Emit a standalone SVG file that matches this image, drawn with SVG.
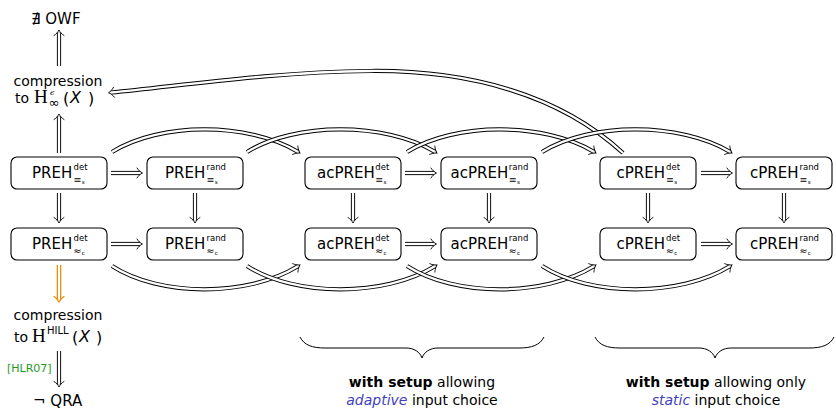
<svg xmlns="http://www.w3.org/2000/svg" width="836" height="409" viewBox="0 0 836 409">
<style>
.box{fill:#fff;stroke:#000;stroke-width:1.1}
.lb{font-family:"DejaVu Sans",sans-serif;font-size:15px;fill:#000}
.sup{font-size:8.5px}
.sub{font-size:9.5px}
.subs{font-size:5.5px}
.t{font-family:"DejaVu Sans",sans-serif;font-size:14px;fill:#000}
.sr{font-family:"Liberation Serif","DejaVu Serif",serif;font-size:19px;fill:#000}
.eps{font-family:"DejaVu Serif",serif;font-size:8px;font-style:italic;fill:#000}
.inf{font-family:"DejaVu Sans",sans-serif;font-size:13px;fill:#000}
.hill{font-family:"DejaVu Sans",sans-serif;font-size:10px;fill:#000}
.par{font-family:"DejaVu Sans",sans-serif;font-size:16px;fill:#000}
.xi{font-family:"DejaVu Sans",sans-serif;font-size:16px;font-style:italic;fill:#000}
.cap{font-family:"DejaVu Sans",sans-serif;font-size:14px;fill:#000;text-anchor:middle}
.em{font-style:italic;fill:#3f3fbf}
.cite{font-family:"DejaVu Sans",sans-serif;font-size:11px;fill:#1f9a1f}
.o{fill:none;stroke:#000;stroke-width:4.2;marker-end:url(#ah)}
.i{fill:none;stroke:#fff;stroke-width:2.3}
.oo{fill:none;stroke:#f08a00;stroke-width:4.6;marker-end:url(#aho)}
.brace{fill:none;stroke:#000;stroke-width:1}
</style>
<defs>
<marker id="ah" markerUnits="userSpaceOnUse" orient="auto" refX="0" refY="0" markerWidth="20" markerHeight="20" viewBox="-10 -10 20 20" overflow="visible">
<path d="M -3 -5 C -1.5 -2.5 0.5 -1 2.5 0 C 0.5 1 -1.5 2.5 -3 5" fill="none" stroke="#000" stroke-width="0.9" stroke-linecap="round"/>
</marker>
<marker id="aho" markerUnits="userSpaceOnUse" orient="auto" refX="0" refY="0" markerWidth="20" markerHeight="20" viewBox="-10 -10 20 20" overflow="visible">
<path d="M -3 -5 C -1.5 -2.5 0.5 -1 2.5 0 C 0.5 1 -1.5 2.5 -3 5" fill="none" stroke="#f08a00" stroke-width="1.2" stroke-linecap="round"/>
</marker>
</defs>
<rect width="836" height="409" fill="#fff"/>

<g id="connectors">
<path class="o" d="M 623 153 C 560 95, 470 70, 370 71 C 270 72, 180 86, 111 92.5"/>
<path class="i" d="M 623 153 C 560 95, 470 70, 370 71 C 270 72, 180 86, 111 92.5"/>
<path class="o" d="M 112 152 C 160 122, 248 122, 297.8 151.7"/>
<path class="i" d="M 112 152 C 160 122, 248 122, 297.8 151.7"/>
<path class="o" d="M 247 152 C 295 122, 385 122, 434.8 151.7"/>
<path class="i" d="M 247 152 C 295 122, 385 122, 434.8 151.7"/>
<path class="o" d="M 407 152 C 455 122, 544 122, 593.8 151.7"/>
<path class="i" d="M 407 152 C 455 122, 544 122, 593.8 151.7"/>
<path class="o" d="M 542 152 C 590 122, 680 122, 729.8 151.7"/>
<path class="i" d="M 542 152 C 590 122, 680 122, 729.8 151.7"/>
<path class="o" d="M 112 266 C 160 297, 248 297, 297.8 266.3"/>
<path class="i" d="M 112 266 C 160 297, 248 297, 297.8 266.3"/>
<path class="o" d="M 247 266 C 295 297, 385 297, 434.8 266.3"/>
<path class="i" d="M 247 266 C 295 297, 385 297, 434.8 266.3"/>
<path class="o" d="M 407 266 C 455 297, 544 297, 593.8 266.3"/>
<path class="i" d="M 407 266 C 455 297, 544 297, 593.8 266.3"/>
<path class="o" d="M 542 266 C 590 297, 680 297, 729.8 266.3"/>
<path class="i" d="M 542 266 C 590 297, 680 297, 729.8 266.3"/>
<path class="o" d="M 111 173 H 140"/><path class="i" d="M 111 173 H 140"/>
<path class="o" d="M 405 173 H 434"/><path class="i" d="M 405 173 H 434"/>
<path class="o" d="M 701 173 H 730"/><path class="i" d="M 701 173 H 730"/>
<path class="o" d="M 111 244 H 140"/><path class="i" d="M 111 244 H 140"/>
<path class="o" d="M 405 244 H 434"/><path class="i" d="M 405 244 H 434"/>
<path class="o" d="M 701 244 H 730"/><path class="i" d="M 701 244 H 730"/>
<path class="o" d="M 59 193 V 220.5"/><path class="i" d="M 59 193 V 220.5"/>
<path class="o" d="M 195 193 V 220.5"/><path class="i" d="M 195 193 V 220.5"/>
<path class="o" d="M 353 193 V 220.5"/><path class="i" d="M 353 193 V 220.5"/>
<path class="o" d="M 489 193 V 220.5"/><path class="i" d="M 489 193 V 220.5"/>
<path class="o" d="M 648 193 V 220.5"/><path class="i" d="M 648 193 V 220.5"/>
<path class="o" d="M 784 193 V 220.5"/><path class="i" d="M 784 193 V 220.5"/>
<path class="o" d="M 59 66 V 32.5"/><path class="i" d="M 59 66 V 32.5"/>
<path class="o" d="M 59 153 V 116.5"/><path class="i" d="M 59 153 V 116.5"/>
<path class="oo" d="M 59 265 V 299.5"/><path class="i" d="M 59 265 V 299.5" style="stroke-width:2.1"/>
<path class="o" d="M 59 351 V 384.5"/><path class="i" d="M 59 351 V 384.5"/>
</g>

<g id="n-owf"><text class="lb" x="31" y="24">∄ OWF</text></g>

<g id="n-comp-minent">
<text class="t" x="58" y="86" text-anchor="middle">compression</text>
<text class="t" x="15" y="103">to</text>
<text class="sr" x="34" y="103">H</text>
<text class="eps" x="50" y="95">ϵ</text>
<text class="inf" x="48.5" y="107">∞</text>
<text class="par" x="63" y="104">(</text>
<text class="xi" x="70" y="103">X</text>
<text class="par" x="88" y="104">)</text>
</g>

<g id="n-comp-hill">
<text class="t" x="58" y="320" text-anchor="middle">compression</text>
<text class="t" x="14" y="342">to</text>
<text class="sr" x="32" y="342">H</text>
<text class="hill" x="47" y="333.5">HILL</text>
<text class="par" x="72" y="343">(</text>
<text class="xi" x="79" y="342">X</text>
<text class="par" x="96" y="343">)</text>
</g>

<g id="n-qra">
<text class="cite" x="7" y="372">[HLR07]</text>
<text class="lb" x="33" y="406">¬ QRA</text>
</g>

<g id="n-preh-det-s"><rect class="box" x="11" y="157" width="96" height="32" rx="6"/>
<text class="lb" x="32" y="177.5">PREH<tspan class="sup" x="73.5" y="170">det</tspan><tspan class="sub" x="73.5" y="182.5">≡</tspan><tspan class="subs" dx="0.3" y="184">s</tspan></text></g>
<g id="n-preh-rand-s"><rect class="box" x="147" y="157" width="96" height="32" rx="6"/>
<text class="lb" x="165" y="177.5">PREH<tspan class="sup" x="206.5" y="170">rand</tspan><tspan class="sub" x="206.5" y="182.5">≡</tspan><tspan class="subs" dx="0.3" y="184">s</tspan></text></g>
<g id="n-acpreh-det-s"><rect class="box" x="305" y="157" width="96" height="32" rx="6"/>
<text class="lb" x="317" y="177.5">acPREH<tspan class="sup" x="375.3" y="170">det</tspan><tspan class="sub" x="375.3" y="182.5">≡</tspan><tspan class="subs" dx="0.3" y="184">s</tspan></text></g>
<g id="n-acpreh-rand-s"><rect class="box" x="441" y="157" width="96" height="32" rx="6"/>
<text class="lb" x="450.5" y="177.5">acPREH<tspan class="sup" x="508.8" y="170">rand</tspan><tspan class="sub" x="508.8" y="182.5">≡</tspan><tspan class="subs" dx="0.3" y="184">s</tspan></text></g>
<g id="n-cpreh-det-s"><rect class="box" x="600" y="157" width="96" height="32" rx="6"/>
<text class="lb" x="616.5" y="177.5">cPREH<tspan class="sup" x="666" y="170">det</tspan><tspan class="sub" x="666" y="182.5">≡</tspan><tspan class="subs" dx="0.3" y="184">s</tspan></text></g>
<g id="n-cpreh-rand-s"><rect class="box" x="736" y="157" width="96" height="32" rx="6"/>
<text class="lb" x="750" y="177.5">cPREH<tspan class="sup" x="799.5" y="170">rand</tspan><tspan class="sub" x="799.5" y="182.5">≡</tspan><tspan class="subs" dx="0.3" y="184">s</tspan></text></g>

<g id="n-preh-det-c"><rect class="box" x="11" y="228" width="96" height="32" rx="6"/>
<text class="lb" x="32" y="248.5">PREH<tspan class="sup" x="73.5" y="241">det</tspan><tspan class="sub" x="73.5" y="253.5">≈</tspan><tspan class="subs" dx="0.3" y="255">c</tspan></text></g>
<g id="n-preh-rand-c"><rect class="box" x="147" y="228" width="96" height="32" rx="6"/>
<text class="lb" x="165" y="248.5">PREH<tspan class="sup" x="206.5" y="241">rand</tspan><tspan class="sub" x="206.5" y="253.5">≈</tspan><tspan class="subs" dx="0.3" y="255">c</tspan></text></g>
<g id="n-acpreh-det-c"><rect class="box" x="305" y="228" width="96" height="32" rx="6"/>
<text class="lb" x="317" y="248.5">acPREH<tspan class="sup" x="375.3" y="241">det</tspan><tspan class="sub" x="375.3" y="253.5">≈</tspan><tspan class="subs" dx="0.3" y="255">c</tspan></text></g>
<g id="n-acpreh-rand-c"><rect class="box" x="441" y="228" width="96" height="32" rx="6"/>
<text class="lb" x="450.5" y="248.5">acPREH<tspan class="sup" x="508.8" y="241">rand</tspan><tspan class="sub" x="508.8" y="253.5">≈</tspan><tspan class="subs" dx="0.3" y="255">c</tspan></text></g>
<g id="n-cpreh-det-c"><rect class="box" x="600" y="228" width="96" height="32" rx="6"/>
<text class="lb" x="616.5" y="248.5">cPREH<tspan class="sup" x="666" y="241">det</tspan><tspan class="sub" x="666" y="253.5">≈</tspan><tspan class="subs" dx="0.3" y="255">c</tspan></text></g>
<g id="n-cpreh-rand-c"><rect class="box" x="736" y="228" width="96" height="32" rx="6"/>
<text class="lb" x="750" y="248.5">cPREH<tspan class="sup" x="799.5" y="241">rand</tspan><tspan class="sub" x="799.5" y="253.5">≈</tspan><tspan class="subs" dx="0.3" y="255">c</tspan></text></g>

<g id="braces">
<path class="brace" d="M 300 337 C 304 345, 312 348, 325 348 L 406 348 C 414 348, 420 352, 422 358 C 424 352, 430 348, 438 348 L 519 348 C 532 348, 540 345, 544 337"/>
<path class="brace" d="M 595 337 C 599 345, 607 348, 620 348 L 699 348 C 707 348, 713 352, 715 358 C 717 352, 723 348, 731 348 L 809 348 C 822 348, 830 345, 834 337"/>
</g>
<g id="captions">
<text class="cap" x="422" y="387"><tspan font-weight="bold">with setup</tspan> allowing</text>
<text class="cap" x="422" y="405"><tspan class="em">adaptive</tspan> input choice</text>
<text class="cap" x="716" y="387"><tspan font-weight="bold">with setup</tspan> allowing only</text>
<text class="cap" x="716" y="405"><tspan class="em">static</tspan> input choice</text>
</g>
</svg>
